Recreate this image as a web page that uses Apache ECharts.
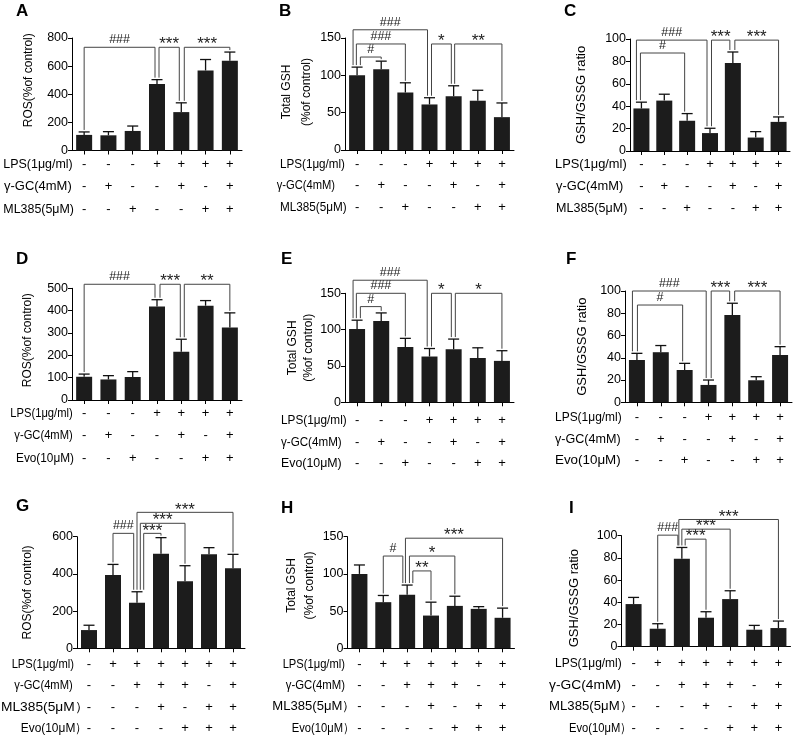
<!DOCTYPE html>
<html><head><meta charset="utf-8">
<script src="https://cdn.jsdelivr.net/npm/echarts@6/dist/echarts.min.js"></script>
<style>html,body{margin:0;padding:0;background:#fff}#c{width:796px;height:738px}</style>
</head><body><div id="c"></div>
<script>
const FONT = '"Liberation Sans", Arial, sans-serif';

// ---------- data ----------
const groups = ['1','2','3','4','5','6','7'];
// treatment tables (top rows)
const lpsAF = ['-','-','-','+','+','+','+'];
const gcAF  = ['-','+','-','-','+','-','+'];
const ml385AC = ['-','-','+','-','-','+','+'];
const evoDF = ['-','-','+','-','-','+','+'];
const lpsGI = ['-','+','+','+','+','+','+'];
const gcGI  = ['-','-','+','+','+','-','+'];
const ml385GI = ['-','-','-','+','-','+','+'];
const evoGI = ['-','-','-','-','+','+','+'];

// panel values (mean) and error-bar tops (mean + SD)
const rosA = [111,108,139,473,273,569,638];
const rosAErr = [132,134,174,504,339,647,700];
const gshB = [100,108,77,61,72,66,44];
const gshBErr = [111,119,90,70,86,80,63];
const ratioC = [38,45,27,16,78.5,12,26];
const ratioCErr = [43.6,50.7,33.4,20.3,88.4,17.3,30.4];
const rosD = [104,92,103,418,216,422,325];
const rosDErr = [116,109,127,449,272,445,390];
const gshE = [101,112,76,63,73,61,57];
const gshEErr = [113,123,88,74,87,75,71];
const ratioF = [38,45,29,15.6,78.4,19.8,42.5];
const ratioFErr = [44,51,35,20,89,23,50];
const rosG = [98,394,245,508,360,505,430];
const rosGErr = [124,451,304,595,444,541,505];
const gshH = [100,62,72,44,57,53,41];
const gshHErr = [112,71,85,62,70,56,54];
const ratioI = [38.4,16.2,79.2,26.1,42.9,15.3,16.8];
const ratioIErr = [44.4,20.7,89.4,31.5,50.4,19.2,23.1];

// significance brackets: [fromGroup, toGroup, label, bracketLevel]
const sigA = [[0,3,'###',734],[3,4,'***',734],[4,6,'***',734]];
const sigB = [[0,3,'###',161],[0,2,'###',142],[0,1,'#',124.5],[3,4,'*',142],[4,6,'**',142]];
const sigC = [[0,3,'###',99],[0,2,'#',87.5],[3,4,'***',99],[4,6,'***',99]];
const sigD = [[0,3,'###',518],[3,4,'***',518],[4,6,'**',518]];
const sigE = [[0,3,'###',168],[0,2,'###',150],[0,1,'#',131.7],[3,4,'*',150],[4,6,'*',150]];
const sigF = [[0,3,'###',100],[0,2,'#',87.4],[3,4,'***',100],[4,6,'***',100]];
const sigG = [[1,2,'###',618],[2,3,'***',618],[2,4,'***',672],[2,6,'***',731]];
const sigH = [[1,2,'#',124],[2,3,'**',104],[2,4,'*',124],[2,6,'***',148]];
const sigI = [[1,2,'###',100.5],[2,3,'***',96.9],[2,4,'***',105.9],[2,6,'***',114.6]];

// axis ticks
const ticksROS1 = {max:800, interval:200};
const ticksROS2 = {max:500, interval:100};
const ticksROS3 = {max:600, interval:200};
const ticksGSH = {max:150, interval:50};
const ticksRatio = {max:100, interval:20};

const panels = [
  {letter:'A', vals:rosA, errs:rosAErr, sig:sigA, ticks:ticksROS1, yName:'ROS(%of control)',
   rows:[['LPS(1μg/ml)',lpsAF],['γ-GC(4mM)',gcAF],['ML385(5μM)',ml385AC]]},
  {letter:'B', vals:gshB, errs:gshBErr, sig:sigB, ticks:ticksGSH, yName:'Total GSH\n(%of control)',
   rows:[['LPS(1μg/ml)',lpsAF],['γ-GC(4mM)',gcAF],['ML385(5μM)',ml385AC]]},
  {letter:'C', vals:ratioC, errs:ratioCErr, sig:sigC, ticks:ticksRatio, yName:'GSH/GSSG ratio',
   rows:[['LPS(1μg/ml)',lpsAF],['γ-GC(4mM)',gcAF],['ML385(5μM)',ml385AC]]},
  {letter:'D', vals:rosD, errs:rosDErr, sig:sigD, ticks:ticksROS2, yName:'ROS(%of control)',
   rows:[['LPS(1μg/ml)',lpsAF],['γ-GC(4mM)',gcAF],['Evo(10μM)',evoDF]]},
  {letter:'E', vals:gshE, errs:gshEErr, sig:sigE, ticks:ticksGSH, yName:'Total GSH\n(%of control)',
   rows:[['LPS(1μg/ml)',lpsAF],['γ-GC(4mM)',gcAF],['Evo(10μM)',evoDF]]},
  {letter:'F', vals:ratioF, errs:ratioFErr, sig:sigF, ticks:ticksRatio, yName:'GSH/GSSG ratio',
   rows:[['LPS(1μg/ml)',lpsAF],['γ-GC(4mM)',gcAF],['Evo(10μM)',evoDF]]},
  {letter:'G', vals:rosG, errs:rosGErr, sig:sigG, ticks:ticksROS3, yName:'ROS(%of control)',
   rows:[['LPS(1μg/ml)',lpsGI],['γ-GC(4mM)',gcGI],['ML385(5μM）',ml385GI],['Evo(10μM）',evoGI]]},
  {letter:'H', vals:gshH, errs:gshHErr, sig:sigH, ticks:ticksGSH, yName:'Total GSH\n(%of control)',
   rows:[['LPS(1μg/ml)',lpsGI],['γ-GC(4mM)',gcGI],['ML385(5μM）',ml385GI],['Evo(10μM）',evoGI]]},
  {letter:'I', vals:ratioI, errs:ratioIErr, sig:sigI, ticks:ticksRatio, yName:'GSH/GSSG ratio',
   rows:[['LPS(1μg/ml)',lpsGI],['γ-GC(4mM)',gcGI],['ML385(5μM）',ml385GI],['Evo(10μM）',evoGI]]}
];

// ---------- layout (pixels) ----------
const layout = [
  {left:72, top:38, width:170, height:112.5, letterXY:[16,3], rowY0:164, rowGap:22.5,
   rowXs:[3.3,4,3.3], rowEnds:[72.7,71.7,74],
   nameGap:36, namePad:[0,0,0,28], nudges:[[0,-2],[2,-2],[3,0]]},
  {left:345, top:38, width:169, height:112, letterXY:[279,3], rowY0:164, rowGap:21.7,
   rowXs:[280,280,280], rowEnds:[345,335,346.7],
   nameGap:14, namePad:[0,0,0,4], nameLH:20, nudges:[[-4,-2],[-0.7,0],[3.3,0],[2,-2.3],[1,0]]},
  {left:630, top:39, width:160, height:112, letterXY:[564,3], rowY0:164, rowGap:22.2,
   rowXs:[555,556,556], rowEnds:[626.7,623.3,627.3],
   nameGap:42, nameSize:13, nudges:[[-5,-3],[-1,-2.5],[1.5,-3],[2,0]]},
  {left:72, top:288.3, width:170, height:111.7, letterXY:[16,251], rowY0:413.3, rowGap:22.5,
   rowXs:[16,16,16], rowEnds:[72.7,72.7,74],
   nameGap:37, namePad:[0,0,0,8], nudges:[[0,-2],[3,-1],[3,0]]},
  {left:345, top:293.3, width:169, height:109, letterXY:[281,251], rowY0:420.7, rowGap:21.3,
   rowXs:[281,281,281], rowEnds:[346.7,341.7,341.7],
   nameGap:26, nameLH:16, nudges:[[-4,-2.3],[-0.7,0],[3.3,0],[2,-2.3],[1.7,0]]},
  {left:625, top:291, width:167, height:111.3, letterXY:[566,251], rowY0:417.3, rowGap:21.8,
   rowXs:[555,555,555], rowEnds:[621.7,620.7,620.7],
   nameGap:36, nameSize:13, nudges:[[-4.5,-2.3],[0.5,-2],[2.7,-2.7],[2.3,0]]},
  {left:77, top:536.7, width:168, height:111.6, letterXY:[16,498], rowY0:664, rowGap:21.6,
   rowXs:[25,25,1,20.7], rowEnds:[74,72.7,79.3,79.3],
   nameGap:42, nudges:[[0,-3.3],[6.7,0],[3.3,0],[0,0]]},
  {left:347.5, top:536.7, width:167, height:111.6, letterXY:[281,500], rowY0:664, rowGap:21.4,
   rowXs:[290,285.7,272.3,292.7], rowEnds:[345,345,346.7,346.7],
   nameGap:23, namePad:[0,0,0,14], nameLH:18, nudges:[[0,-4.3],[5.7,0],[2.3,0],[-1.7,0]]},
  {left:621.5, top:535.7, width:169, height:111, letterXY:[569,500], rowY0:663.3, rowGap:21.7,
   rowXs:[555,549,549,569], rowEnds:[621.7,621,624,624],
   nameGap:40, nameSize:13, namePad:[0,14,0,0], nudges:[[0,-4],[3.3,0],[0,0],[-3,0]]}
];

const BAR = '#1c1c1c';
const ROWFS = 13;
const mctx = document.createElement('canvas').getContext('2d');
function textW(t, size) { mctx.font = size + 'px ' + FONT; return mctx.measureText(t).width; }

const grids=[], xAxes=[], yAxes=[], series=[], graphics=[];

panels.forEach((p, k) => {
  const L = layout[k];
  grids.push({left:L.left, top:L.top, width:L.width, height:L.height, containLabel:false, outerBoundsMode:'none'});
  xAxes.push({
    gridIndex:k, type:'category', data:groups, boundaryGap:true,
    axisLine:{show:true, lineStyle:{color:'#000', width:1}},
    axisTick:{show:true, alignWithLabel:true, length:4, lineStyle:{color:'#000'}},
    axisLabel:{interval:0, margin:L.rowY0 - (L.top + L.height) - L.rowGap/2, lineHeight:L.rowGap,
      fontSize:13, color:'#000', fontFamily:FONT,
      formatter:(v, idx) => p.rows.map(r => r[1][idx]).join('\n')},
    splitLine:{show:false}
  });
  yAxes.push({
    gridIndex:k, type:'value', min:0, max:p.ticks.max, interval:p.ticks.interval,
    name:p.yName, nameLocation:'middle', nameGap:L.nameGap, nameRotate:90,
    nameTextStyle:{fontSize:L.nameSize || 12, color:'#000', fontFamily:FONT,
      lineHeight:L.nameLH || 14, padding:L.namePad || 0},
    axisLine:{show:true, lineStyle:{color:'#000'}},
    axisTick:{show:true, length:4, lineStyle:{color:'#000'}},
    axisLabel:{fontSize:12.5, color:'#000', fontFamily:FONT, margin:4},
    splitLine:{show:false}
  });
  series.push({
    type:'bar', xAxisIndex:k, yAxisIndex:k, data:p.vals, barWidth:16,
    itemStyle:{color:BAR}, silent:true, z:2
  });
  series.push({
    type:'custom', xAxisIndex:k, yAxisIndex:k, silent:true, z:3,
    data:p.vals.map((v, i) => [i, v, p.errs[i]]),
    encode:{x:0, y:[1,2]},
    renderItem:(params, api) => {
      const i = api.value(0), v = api.value(1), e = api.value(2);
      const p1 = api.coord([i, v]), p2 = api.coord([i, e]);
      const cw = 5.5;
      const st = {stroke:'#111', lineWidth:1.3};
      return {type:'group', children:[
        {type:'line', shape:{x1:p1[0], y1:p1[1], x2:p2[0], y2:p2[1]}, style:st},
        {type:'line', shape:{x1:p2[0]-cw, y1:p2[1], x2:p2[0]+cw, y2:p2[1]}, style:st}
      ]};
    }
  });
  series.push({
    type:'custom', xAxisIndex:k, yAxisIndex:k, silent:true, z:4, clip:false,
    data:p.sig.map(s => [s[0], s[1], s[3]]),
    encode:{x:0, y:2},
    renderItem:(params, api) => {
      const s = p.sig[params.dataIndex];
      const nd = L.nudges[params.dataIndex] || [0,0];
      const i = s[0], j = s[1], lvl = s[3];
      const a = api.coord([i, lvl]), b = api.coord([j, lvl]);
      const y = a[1];
      const x1 = a[0] + nd[0], x2 = b[0] + nd[1];
      const b1 = api.coord([i, p.errs[i]])[1] - 2;
      const b2 = api.coord([j, p.errs[j]])[1] - 2;
      const star = s[2].indexOf('*') >= 0;
      return {type:'group', children:[
        {type:'polyline', shape:{points:[[x1,b1],[x1,y],[x2,y],[x2,b2]]},
         style:{stroke:'#444', lineWidth:1, fill:null}},
        {type:'text', x:(x1+x2)/2, y: star ? y + 6 : y - 1,
         style:{text:s[2], fill:'#222', fontSize: star ? 17 : 12.5, fontFamily:FONT,
                align:'center', verticalAlign:'bottom'}}
      ]};
    }
  });
  graphics.push({type:'text', x:L.letterXY[0], y:L.letterXY[1],
    style:{text:p.letter, fontSize:17, fontWeight:'bold', fontFamily:FONT, fill:'#000'}});
  p.rows.forEach((r, ri) => {
    const x0 = L.rowXs[ri], x1 = L.rowEnds[ri];
    const natural = textW(r[0].replace('）', ')'), ROWFS);
    const raw = (x1 - x0) / natural;
    const sx = Math.min(1.1, Math.max(0.86, raw));
    // keep the label's right end where it is in the figure if the squeeze is limited
    const xs = raw < 0.86 ? x1 - natural * sx : x0;
    graphics.push({type:'text', x:xs, y:L.rowY0 + ri*L.rowGap, scaleX:sx,
      style:{text:r[0], fontSize:ROWFS, fontFamily:FONT, fill:'#000', verticalAlign:'middle'}});
  });
});

const chart = echarts.init(document.getElementById('c'), null, {renderer:'canvas'});
chart.setOption({
  animation:false,
  backgroundColor:'#fff',
  grid:grids, xAxis:xAxes, yAxis:yAxes, series:series, graphic:graphics
});
</script>
</body></html>
